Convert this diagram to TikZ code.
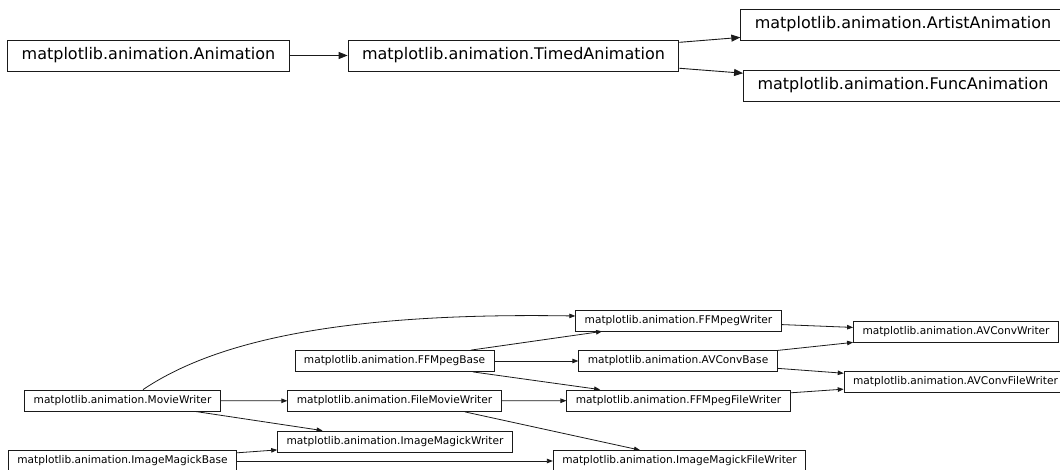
\documentclass[tikz,border=0pt]{standalone}
\usepackage{fontspec}
\setmainfont{DejaVu Sans}
\usepackage{xcolor}
\definecolor{vizLine}{HTML}{1A1A1A}
\usetikzlibrary{arrows.meta}

\begin{document}
\begin{tikzpicture}[
  bigclass/.style={draw=vizLine, fill=white, line width=0.9pt, inner xsep=14pt, inner ysep=0pt, minimum height=31pt, font=\fontsize{16}{18}\selectfont},
  smallclass/.style={draw=vizLine, fill=white, line width=0.8pt, inner xsep=9pt, inner ysep=0pt, minimum height=21pt, font=\fontsize{10.6}{12}\selectfont},
  bigedge/.style={draw=vizLine, line width=0.9pt, -{Triangle[length=9pt, width=7pt]}},
  smalledge/.style={draw=vizLine, line width=0.8pt, -{Triangle[length=6pt, width=4.5pt]}}]
  \useasboundingbox (0pt,0pt) rectangle (1060pt,-470pt);
  \node[bigclass] (animation) at (148.5pt,-55.5pt) {matplotlib.animation.Animation};
  \node[bigclass] (timedAnimation) at (513.5pt,-55.5pt) {matplotlib.animation.TimedAnimation};
  \node[bigclass] (artistAnimation) at (903pt,-24.5pt) {matplotlib.animation.ArtistAnimation};
  \node[bigclass] (funcAnimation) at (903pt,-85.5pt) {matplotlib.animation.FuncAnimation};
  \draw[bigedge] (animation) -- (timedAnimation);
  \draw[bigedge] (timedAnimation) -- (artistAnimation);
  \draw[bigedge] (timedAnimation) -- (funcAnimation);

  \node[smallclass] (movieWriter) at (122.5pt,-400.5pt) {matplotlib.animation.MovieWriter};
  \node[smallclass] (ffmpegBase) at (394.5pt,-361pt) {matplotlib.animation.FFMpegBase};
  \node[smallclass] (fileMovieWriter) at (394.5pt,-401pt) {matplotlib.animation.FileMovieWriter};
  \node[smallclass] (imageMagickWriter) at (395pt,-441.5pt) {matplotlib.animation.ImageMagickWriter};
  \node[smallclass] (imageMagickBase) at (122.5pt,-461pt) {matplotlib.animation.ImageMagickBase};
  \node[smallclass] (ffmpegWriter) at (678.5pt,-320.5pt) {matplotlib.animation.FFMpegWriter};
  \node[smallclass] (avconvBase) at (678pt,-361pt) {matplotlib.animation.AVConvBase};
  \node[smallclass] (ffmpegFileWriter) at (678.5pt,-400.5pt) {matplotlib.animation.FFMpegFileWriter};
  \node[smallclass] (imageMagickFileWriter) at (679.5pt,-461pt) {matplotlib.animation.ImageMagickFileWriter};
  \node[smallclass] (avconvWriter) at (956pt,-331.5pt) {matplotlib.animation.AVConvWriter};
  \node[smallclass] (avconvFileWriter) at (955.5pt,-381.5pt) {matplotlib.animation.AVConvFileWriter};

  \draw[smalledge] ([xshift=20.5pt]movieWriter.north) .. controls +(67pt,45pt) and +(-246pt,4pt) .. ([yshift=4.5pt]ffmpegWriter.west);
  \draw[smalledge] (movieWriter) -- (fileMovieWriter);
  \draw[smalledge] (movieWriter) -- (imageMagickWriter);
  \draw[smalledge] (imageMagickBase) -- (imageMagickWriter);
  \draw[smalledge] (imageMagickBase) -- (imageMagickFileWriter);
  \draw[smalledge] (ffmpegBase) -- (ffmpegWriter);
  \draw[smalledge] (ffmpegBase) -- (avconvBase);
  \draw[smalledge] (ffmpegBase) -- (ffmpegFileWriter);
  \draw[smalledge] (fileMovieWriter) -- (ffmpegFileWriter);
  \draw[smalledge] ([xshift=70.5pt]fileMovieWriter.south) -- ([xshift=-39.5pt]imageMagickFileWriter.north);
  \draw[smalledge] (ffmpegWriter) -- (avconvWriter);
  \draw[smalledge] (avconvBase) -- (avconvWriter);
  \draw[smalledge] (avconvBase) -- (avconvFileWriter);
  \draw[smalledge] (ffmpegFileWriter) -- (avconvFileWriter);
\end{tikzpicture}
\end{document}
